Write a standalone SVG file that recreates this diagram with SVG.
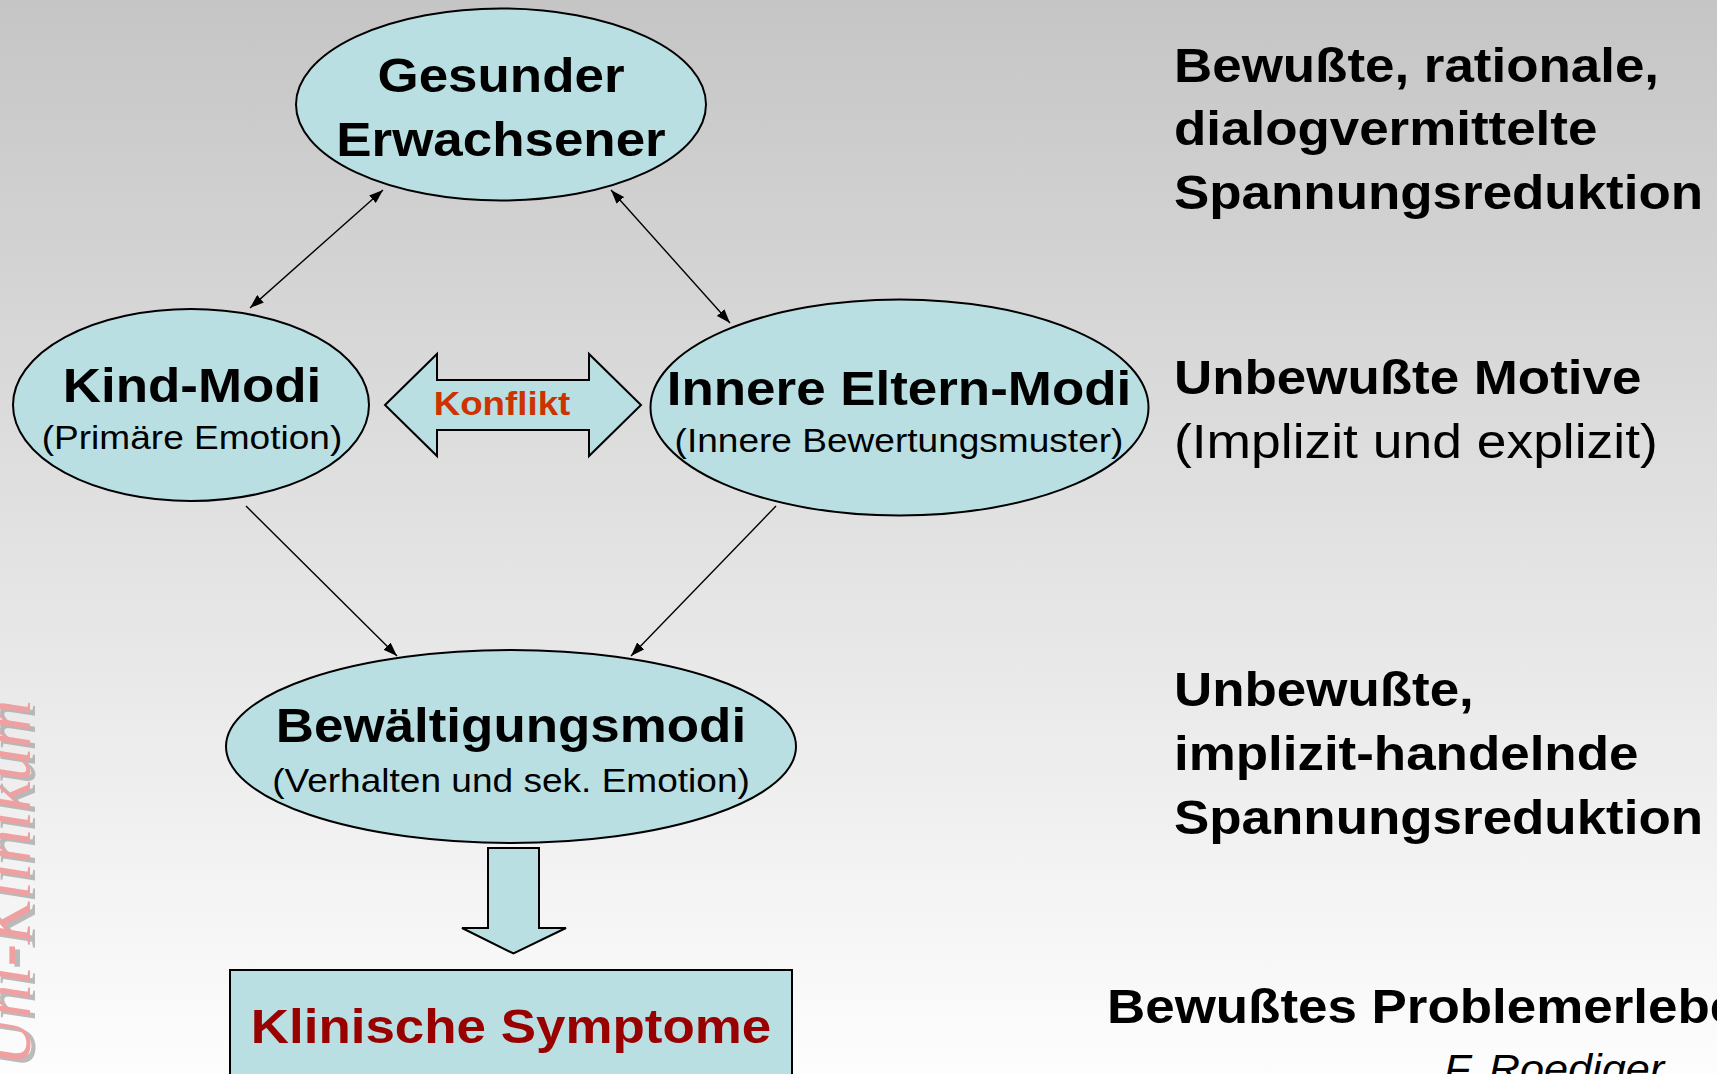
<svg xmlns="http://www.w3.org/2000/svg" width="1717" height="1074" viewBox="0 0 1717 1074">
  <defs>
    <linearGradient id="bg" x1="0" y1="0" x2="0" y2="1">
      <stop offset="0" stop-color="#c5c5c5"/>
      <stop offset="0.5" stop-color="#e2e2e2"/>
      <stop offset="1" stop-color="#fdfdfd"/>
    </linearGradient>
    <marker id="ah" viewBox="0 0 14 10" refX="14" refY="5" markerWidth="14" markerHeight="10" markerUnits="userSpaceOnUse" orient="auto-start-reverse">
      <path d="M0,0 L14,5 L0,10 Z" fill="#000"/>
    </marker>
    <style>
      .node { fill: #b9dfe3; stroke: #000; stroke-width: 2; }
      .title { font-family: "Liberation Sans", Arial, sans-serif; font-weight: bold; font-size: 49px; fill: #000; }
      .sub { font-family: "Liberation Sans", Arial, sans-serif; font-size: 34px; fill: #000; }
      .side { font-family: "Liberation Sans", Arial, sans-serif; font-size: 49px; fill: #000; }
      .side-b { font-weight: bold; }
      .link { stroke: #000; stroke-width: 1.4; fill: none; }
      .block { fill: #b9dfe3; stroke: #000; stroke-width: 2; stroke-linejoin: miter; }
      .mark { font-family: "Liberation Serif", "Times New Roman", serif; font-style: italic; font-size: 74px; }
    </style>
  </defs>

  <!-- slide background -->
  <rect x="0" y="0" width="1717" height="1074" fill="url(#bg)"/>

  <!-- vertical watermark at the left edge, mostly outside the slide -->
  <g id="watermark">
    <text class="mark" text-anchor="end" fill="#a6a6a6" opacity="0.75" transform="translate(35,703) rotate(-90) scale(0.9,1)">Uni-Klinikum</text>
    <text class="mark" text-anchor="end" fill="#f0a0a0" transform="translate(30,700) rotate(-90) scale(0.9,1)">Uni-Klinikum</text>
  </g>

  <!-- connectors -->
  <g id="connectors">
    <line class="link" x1="383" y1="190" x2="250" y2="308" marker-start="url(#ah)" marker-end="url(#ah)"/>
    <line class="link" x1="611" y1="190" x2="730" y2="323" marker-start="url(#ah)" marker-end="url(#ah)"/>
    <line class="link" x1="246" y1="506" x2="397" y2="656" marker-end="url(#ah)"/>
    <line class="link" x1="776" y1="506" x2="631" y2="656" marker-end="url(#ah)"/>
  </g>

  <!-- healthy adult -->
  <g id="node-gesunder-erwachsener">
    <ellipse class="node" cx="501" cy="104.5" rx="205" ry="96"/>
    <text class="title" text-anchor="middle" transform="translate(501,92) scale(1.08,1)">Gesunder</text>
    <text class="title" text-anchor="middle" transform="translate(501,156) scale(1.08,1)">Erwachsener</text>
  </g>

  <!-- child modes -->
  <g id="node-kind-modi">
    <ellipse class="node" cx="191" cy="405" rx="178" ry="96"/>
    <text class="title" text-anchor="middle" transform="translate(192,402) scale(1.08,1)">Kind-Modi</text>
    <text class="sub" text-anchor="middle" transform="translate(192,449) scale(1.09,1)">(Primäre Emotion)</text>
  </g>

  <!-- inner parent modes -->
  <g id="node-eltern-modi">
    <ellipse class="node" cx="899.5" cy="407.5" rx="249" ry="108"/>
    <text class="title" text-anchor="middle" transform="translate(899,405) scale(1.08,1)">Innere Eltern-Modi</text>
    <text class="sub" text-anchor="middle" transform="translate(899,452) scale(1.09,1)">(Innere Bewertungsmuster)</text>
  </g>

  <!-- conflict double arrow -->
  <g id="node-konflikt">
    <polygon class="block" points="385,405 437,354 437,380 589,380 589,354 641,405 589,456 589,430 437,430 437,456"/>
    <text text-anchor="middle" transform="translate(502,415) scale(1.08,1)" font-family="Liberation Sans, Arial, sans-serif" font-weight="bold" font-size="34" fill="#cc3300">Konflikt</text>
  </g>

  <!-- coping modes -->
  <g id="node-bewaeltigungsmodi">
    <ellipse class="node" cx="511" cy="746.5" rx="285" ry="96.5"/>
    <text class="title" text-anchor="middle" transform="translate(511,742) scale(1.08,1)">Bewältigungsmodi</text>
    <text class="sub" text-anchor="middle" transform="translate(511,792) scale(1.09,1)">(Verhalten und sek. Emotion)</text>
  </g>

  <!-- block arrow down -->
  <g id="node-pfeil">
    <polygon class="block" points="488,848 539,848 539,928 566,928 513.5,953.5 462,928 488,928"/>
  </g>

  <!-- clinical symptoms -->
  <g id="node-klinische-symptome">
    <rect class="node" x="230" y="970" width="562" height="130"/>
    <text class="title" text-anchor="middle" transform="translate(511,1043) scale(1.08,1)" style="fill:#990000">Klinische Symptome</text>
  </g>

  <!-- level descriptions -->
  <g id="labels-right">
    <text class="side side-b" transform="translate(1174,82) scale(1.08,1)">Bewußte, rationale,</text>
    <text class="side side-b" transform="translate(1174,145) scale(1.08,1)">dialogvermittelte</text>
    <text class="side side-b" transform="translate(1174,209) scale(1.08,1)">Spannungsreduktion</text>

    <text class="side side-b" transform="translate(1174,394) scale(1.08,1)">Unbewußte Motive</text>
    <text class="side" transform="translate(1174,458) scale(1.09,1)">(Implizit und explizit)</text>

    <text class="side side-b" transform="translate(1174,706) scale(1.08,1)">Unbewußte,</text>
    <text class="side side-b" transform="translate(1174,770) scale(1.08,1)">implizit-handelnde</text>
    <text class="side side-b" transform="translate(1174,834) scale(1.08,1)">Spannungsreduktion</text>

    <text class="side side-b" transform="translate(1107,1023) scale(1.08,1)">Bewußtes Problemerleben</text>
    <text transform="translate(1444,1083) scale(1.08,1)" font-family="Liberation Sans, Arial, sans-serif" font-style="italic" font-size="40" fill="#000">F. Roediger</text>
  </g>
</svg>
